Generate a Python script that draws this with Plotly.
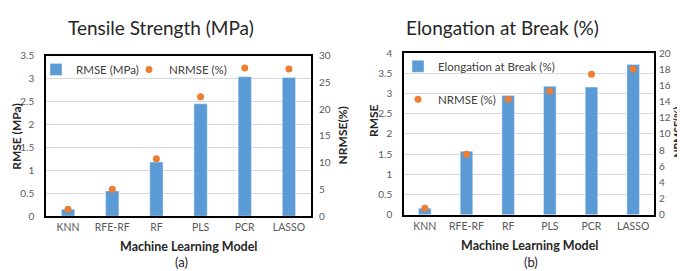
import plotly.graph_objects as go

W, H = 685, 271

models = ["KNN", "RFE-RF", "RF", "PLS", "PCR", "LASSO"]

# (a) Tensile Strength
ts_rmse = [0.15, 0.55, 1.18, 2.45, 3.04, 3.02]
ts_nrmse = [1.3, 5.0, 10.7, 22.3, 27.7, 27.5]

# (b) Elongation at Break
eb_rmse = [0.16, 1.57, 2.95, 3.18, 3.16, 3.72]
eb_nrmse = [0.8, 7.5, 14.3, 15.3, 17.4, 18.0]

BLUE = "#5B9BD5"
ORANGE = "#ED7D31"
GRID = "#D9D9D9"
TICK = "#595959"
FONT = "Lato"


def px(x):
    return x / W


def py(y):
    return 1 - y / H


fig = go.Figure()

fig.add_trace(go.Bar(x=models, y=ts_rmse, name="RMSE (MPa)", marker_color=BLUE,
                     width=0.3, xaxis="x", yaxis="y", legend="legend"))
fig.add_trace(go.Scatter(x=models, y=ts_nrmse, name="NRMSE (%)", mode="markers",
                         marker=dict(color=ORANGE, size=7), xaxis="x", yaxis="y2",
                         legend="legend3"))
fig.add_trace(go.Bar(x=models, y=eb_rmse, name="Elongation at Break (%)", marker_color=BLUE,
                     width=0.3, xaxis="x2", yaxis="y3", legend="legend2", legendgroup="b1"))
fig.add_trace(go.Scatter(x=models, y=eb_nrmse, name="NRMSE (%)", mode="markers",
                         marker=dict(color=ORANGE, size=7), xaxis="x2", yaxis="y4",
                         legend="legend2", legendgroup="b2"))

xdomA = [px(38), px(303)]
xdomB = [px(396), px(646)]
ydomA = [py(211.5), py(43.5)]
ydomB = [py(210), py(41)]

xcommon = dict(showline=True, linecolor="black", linewidth=1.5, mirror=True,
               showgrid=False, ticks="", tickfont=dict(family=FONT, size=10.5, color=TICK),
               ticklabelstandoff=1, fixedrange=True)
ycommon = dict(showline=True, linecolor="black", linewidth=1.5, mirror=True,
               showgrid=True, gridcolor=GRID, gridwidth=1, zeroline=False, ticks="",
               tickfont=dict(family=FONT, size=10, color=TICK), ticklabelstandoff=8)
yright = dict(showline=False, showgrid=False, zeroline=False, ticks="", side="right",
              tickfont=dict(family=FONT, size=10, color=TICK), ticklabelstandoff=7)

legfont = dict(family=FONT, size=11.5, color="#404040")

fig.update_layout(
    width=W, height=H,
    margin=dict(l=0, r=0, t=0, b=0),
    paper_bgcolor="white", plot_bgcolor="white",
    font=dict(family=FONT, color="#262626"),
    bargap=0.7,
    xaxis=dict(domain=xdomA, anchor="y", **xcommon),
    yaxis=dict(domain=ydomA, anchor="x", range=[0, 3.5], dtick=0.5, **ycommon),
    yaxis2=dict(overlaying="y", anchor="x", range=[0, 30], dtick=5, **yright),
    xaxis2=dict(domain=xdomB, anchor="y3", **xcommon),
    yaxis3=dict(domain=ydomB, anchor="x2", range=[0, 4], dtick=0.5, **ycommon),
    yaxis4=dict(overlaying="y3", anchor="x2", range=[0, 20], dtick=2,
                **{**yright, "ticklabelstandoff": 4}),
    legend=dict(orientation="h", x=px(28), y=py(58), xanchor="left", yanchor="middle",
                bgcolor="rgba(0,0,0,0)", font=legfont, itemwidth=30),
    legend3=dict(orientation="h", x=px(121), y=py(58), xanchor="left", yanchor="middle",
                 bgcolor="rgba(0,0,0,0)", font=legfont, itemwidth=30),
    legend2=dict(orientation="v", x=px(390), y=py(72), xanchor="left", yanchor="middle",
                 bgcolor="rgba(0,0,0,0)", font=legfont, tracegroupgap=14, itemwidth=30),
    showlegend=True,
)

ann = []


def add_text(text, x, y, size, bold=False, angle=0, color="#262626",
             xanchor="center", yanchor="middle"):
    t = f"<b>{text}</b>" if bold else text
    ann.append(dict(text=t, x=px(x), y=py(y), xref="paper", yref="paper",
                    xanchor=xanchor, yanchor=yanchor, showarrow=False,
                    textangle=angle, font=dict(family=FONT, size=size, color=color)))


add_text("Tensile Strength (MPa)", 153, 14, 19)
add_text("Elongation at Break (%)", 494, 14, 19)
add_text("Machine Learning Model", 180, 243, 12.5, bold=True)
add_text("Machine Learning Model", 521, 242, 12.5, bold=True)
add_text("(a)", 173.5, 270, 13, yanchor="bottom")
add_text("(b)", 523, 270, 13, yanchor="bottom")
add_text("RMSE (MPa)", 8.5, 128, 12, bold=True, angle=-90)
add_text("NRMSE(%)", 334, 127, 12, bold=True, angle=-90)
add_text("RMSE", 365, 112, 12, bold=True, angle=-90)
add_text("NRMSE(%)", 670, 124, 10.5, bold=True, angle=-90)

fig.update_layout(annotations=ann)

fig.write_html("out.html")
